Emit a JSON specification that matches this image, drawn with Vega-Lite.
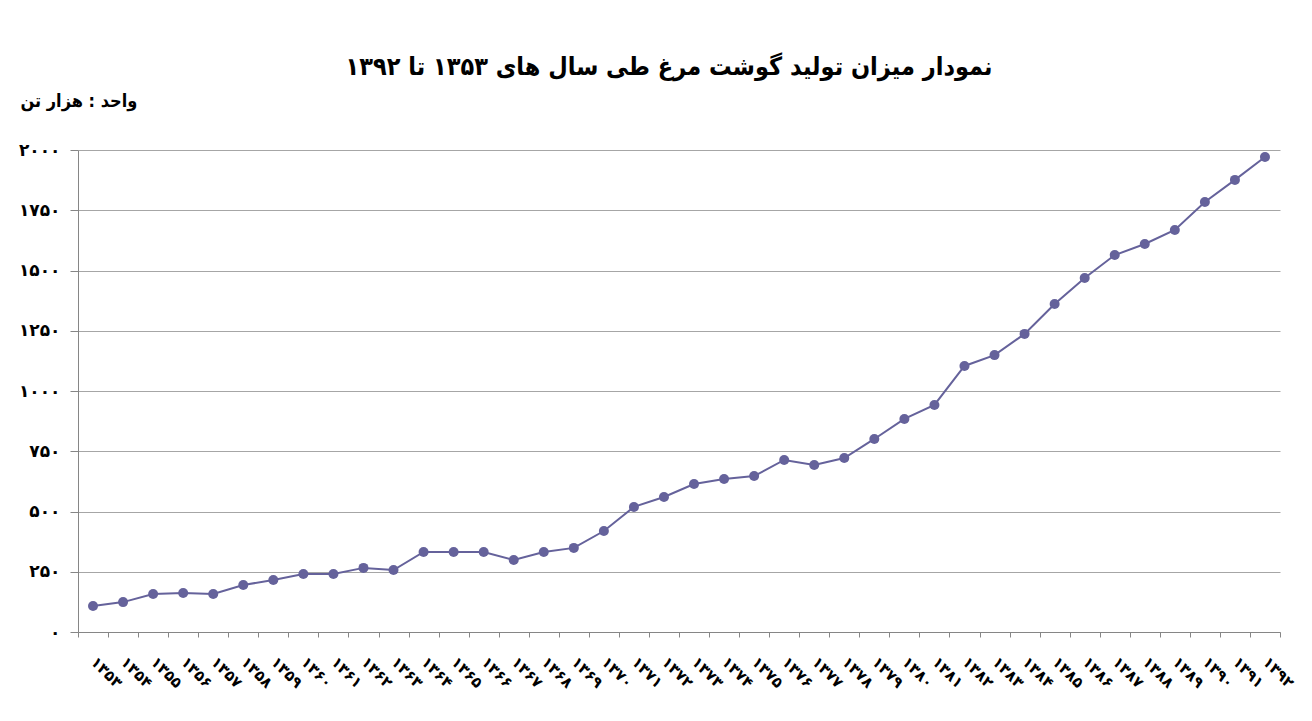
{
  "$schema": "https://vega.github.io/schema/vega-lite/v6.json",
  "width": 1202,
  "height": 482,
  "autosize": {"type": "none"},
  "padding": {"left": 78, "top": 150, "right": 32, "bottom": 89},
  "background": "white",
  "title": {
    "text": "نمودار میزان تولید گوشت مرغ طی سال های ۱۳۵۳ تا ۱۳۹۲",
    "font": "DejaVu Sans Condensed",
    "fontSize": 25,
    "fontWeight": "bold",
    "color": "#000000",
    "anchor": "middle",
    "dx": -10,
    "offset": 12
  },
  "data": {
    "values": [
      {"year": "۱۳۵۳", "value": 108},
      {"year": "۱۳۵۴", "value": 124},
      {"year": "۱۳۵۵", "value": 158},
      {"year": "۱۳۵۶", "value": 162},
      {"year": "۱۳۵۷", "value": 158},
      {"year": "۱۳۵۸", "value": 195},
      {"year": "۱۳۵۹", "value": 216},
      {"year": "۱۳۶۰", "value": 241},
      {"year": "۱۳۶۱", "value": 241},
      {"year": "۱۳۶۲", "value": 266},
      {"year": "۱۳۶۳", "value": 257},
      {"year": "۱۳۶۴", "value": 332},
      {"year": "۱۳۶۵", "value": 332},
      {"year": "۱۳۶۶", "value": 332},
      {"year": "۱۳۶۷", "value": 299},
      {"year": "۱۳۶۸", "value": 332},
      {"year": "۱۳۶۹", "value": 349},
      {"year": "۱۳۷۰", "value": 419},
      {"year": "۱۳۷۱", "value": 519},
      {"year": "۱۳۷۲", "value": 560},
      {"year": "۱۳۷۳", "value": 614},
      {"year": "۱۳۷۴", "value": 635},
      {"year": "۱۳۷۵", "value": 647},
      {"year": "۱۳۷۶", "value": 714},
      {"year": "۱۳۷۷", "value": 693},
      {"year": "۱۳۷۸", "value": 722},
      {"year": "۱۳۷۹", "value": 801},
      {"year": "۱۳۸۰", "value": 884},
      {"year": "۱۳۸۱", "value": 942},
      {"year": "۱۳۸۲", "value": 1104},
      {"year": "۱۳۸۳", "value": 1149},
      {"year": "۱۳۸۴", "value": 1237},
      {"year": "۱۳۸۵", "value": 1361},
      {"year": "۱۳۸۶", "value": 1469},
      {"year": "۱۳۸۷", "value": 1564},
      {"year": "۱۳۸۸", "value": 1610},
      {"year": "۱۳۸۹", "value": 1668},
      {"year": "۱۳۹۰", "value": 1784},
      {"year": "۱۳۹۱", "value": 1876},
      {"year": "۱۳۹۲", "value": 1971}
    ]
  },
  "encoding": {
    "x": {
      "field": "year",
      "type": "ordinal",
      "sort": null,
      "bandPosition": 0.5,
      "scale": {"type": "band", "paddingInner": 0, "paddingOuter": 0},
      "axis": {
        "title": null,
        "grid": false,
        "tickBand": "extent",
        "domainColor": "#868686",
        "tickColor": "#868686",
        "tickSize": 5,
        "labelAngle": 45,
        "labelAlign": "left",
        "labelBaseline": "middle",
        "labelPadding": 22,
        "labelFont": "DejaVu Sans",
        "labelFontSize": 15,
        "labelFontWeight": "bold",
        "labelColor": "#000000"
      }
    },
    "y": {
      "field": "value",
      "type": "quantitative",
      "scale": {"domain": [0, 2000], "nice": false},
      "axis": {
        "values": [0, 250, 500, 750, 1000, 1250, 1500, 1750, 2000],
        "format": "d",
        "labelExpr": "replace(replace(replace(replace(replace(replace(replace(replace(replace(replace(datum.label, regexp('0','g'), '۰'), regexp('1','g'), '۱'), regexp('2','g'), '۲'), regexp('3','g'), '۳'), regexp('4','g'), '۴'), regexp('5','g'), '۵'), regexp('6','g'), '۶'), regexp('7','g'), '۷'), regexp('8','g'), '۸'), regexp('9','g'), '۹')",
        "title": "واحد : هزار تن",
        "titleAngle": 0,
        "titleAlign": "left",
        "titleBaseline": "alphabetic",
        "titleX": -58,
        "titleY": -44,
        "titleFont": "DejaVu Sans Condensed",
        "titleFontSize": 18,
        "titleFontWeight": "bold",
        "titleColor": "#000000",
        "grid": true,
        "gridColor": "#a6a6a6",
        "gridWidth": 1,
        "domainColor": "#868686",
        "tickColor": "#868686",
        "tickSize": 8,
        "labelPadding": 10,
        "labelFont": "DejaVu Sans",
        "labelFontSize": 17,
        "labelFontWeight": "bold",
        "labelColor": "#000000"
      }
    }
  },
  "layer": [
    {"mark": {"type": "line", "color": "#65629b", "strokeWidth": 2}},
    {"mark": {"type": "point", "filled": true, "color": "#65629b", "opacity": 1, "size": 100}}
  ],
  "config": {"view": {"stroke": null}}
}
